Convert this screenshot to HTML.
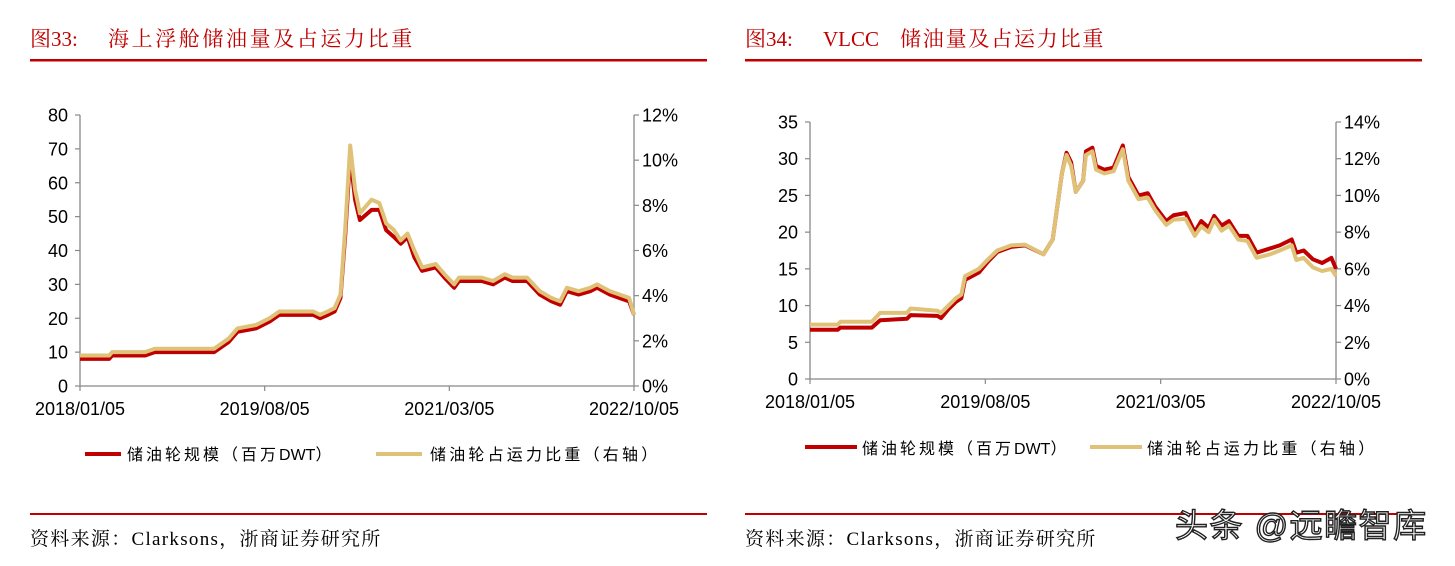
<!DOCTYPE html>
<html><head><meta charset="utf-8">
<style>
html,body{margin:0;padding:0;background:#fff;}
body{width:1455px;height:561px;position:relative;overflow:hidden;}
svg text{font-family:"Liberation Sans","Noto Sans CJK SC",sans-serif;}
.serif{font-family:"Liberation Serif","Noto Serif CJK SC",serif;}
</style></head>
<body>
<svg id="root" width="1455" height="561" viewBox="0 0 1455 561">
  <g>
    <text class="serif" x="30" y="46" font-size="21" fill="#C00000">图33:</text>
    <text class="serif" x="108" y="46" font-size="21" letter-spacing="2.6" fill="#C00000">海上浮舱储油量及占运力比重</text>
    <rect x="30" y="59" width="677" height="2.5" fill="#C00000"/>
  </g>
  <g>
    <text class="serif" x="745" y="46" font-size="21" fill="#C00000">图34:</text>
    <text class="serif" x="823" y="46" font-size="21" fill="#C00000">VLCC</text>
    <text class="serif" x="900" y="46" font-size="21" letter-spacing="1.8" fill="#C00000">储油量及占运力比重</text>
    <rect x="745" y="59" width="677" height="2.5" fill="#C00000"/>
  </g>
  <g id="leftChart"></g>
  <g id="rightChart"></g>
  <g>
    <rect x="85" y="452" width="36" height="4" fill="#C00000"/>
    <text x="127" y="460" font-size="16" letter-spacing="3" fill="#000">储油轮规模（百万<tspan letter-spacing="0">DWT</tspan>）</text>
    <rect x="376" y="452" width="46" height="4" fill="#DFC278"/>
    <text x="430" y="460" font-size="16" letter-spacing="3.2" fill="#000">储油轮占运力比重（右轴）</text>
  </g>
  <g>
    <rect x="805" y="445" width="52" height="4" fill="#C00000"/>
    <text x="862" y="454" font-size="16" letter-spacing="3" fill="#000">储油轮规模（百万<tspan letter-spacing="0">DWT</tspan>）</text>
    <rect x="1090" y="445" width="52" height="4" fill="#DFC278"/>
    <text x="1147" y="454" font-size="16" letter-spacing="3.2" fill="#000">储油轮占运力比重（右轴）</text>
  </g>
  <rect x="30" y="513" width="677" height="2" fill="#C00000"/>
  <rect x="745" y="513" width="677" height="2" fill="#C00000"/>
  <text class="serif" x="30" y="545" font-size="19" letter-spacing="1.3" fill="#000">资料来源：Clarksons，浙商证券研究所</text>
  <text class="serif" x="745" y="545" font-size="19" letter-spacing="1.3" fill="#000">资料来源：Clarksons，浙商证券研究所</text>
  <text x="1175" y="537" font-size="33" letter-spacing="1.5" fill="#fff" stroke="#222" stroke-width="1.4">头条 @远瞻智库</text>
</svg>
<script>
// ---- left chart data (month index since 2018/01/05) ----
const leftT = [0,3,3.3,6.7,7.7,13.8,15.3,16.2,18.1,19.5,20.5,22.4,24,24.7,25.5,26.2,26.8,27.3,27.8,28.3,28.8,30,30.8,31.5,32.3,33,33.7,34.4,35.2,36.6,37.5,38.5,39,39.5,41.3,42.5,43.7,44.5,46,47.3,48.5,49.4,50.1,51.3,52.5,53.2,54.5,55.5,56.5,57];
const leftScale = [8,8,9,9,10,10,13,16,17,19,21,21,21,20,21,22,26,45,68,55,49,52,52,46,44,42,44,38,34,35,32,29,31,31,31,30,32,31,31,27,25,24,28,27,28,29,27,26,25,21];
const leftRatio = [1.35,1.35,1.5,1.5,1.65,1.65,2.1,2.55,2.7,3.0,3.3,3.3,3.3,3.15,3.3,3.45,4.05,7.05,10.65,8.7,7.65,8.25,8.1,7.2,6.9,6.45,6.75,6.0,5.25,5.4,4.95,4.5,4.8,4.8,4.8,4.65,4.95,4.8,4.8,4.2,3.9,3.75,4.35,4.2,4.35,4.5,4.2,4.05,3.9,3.15];
const leftLeftTicks = [0,10,20,30,40,50,60,70,80];
const leftRightTicks = [0,2,4,6,8,10,12];
// ---- right chart data ----
const rightT = [0,3,3.3,6.7,7.6,10.5,10.9,13.8,14.2,15,15.8,16.4,16.8,18.3,19.3,20.3,21.8,23.3,25.3,26.3,27.3,27.8,28.3,28.8,29.6,29.9,30.6,31,31.9,32.9,33.9,34.5,35.6,36.6,37.4,38.6,39.4,40.7,41.7,42.4,43.2,43.8,44.6,45.4,46.4,47.4,48.4,49.9,50.9,52.2,52.7,53.5,54.5,55.5,56.5,57];
const rightScale = [6.7,6.7,7,7,8,8.2,8.7,8.6,8.3,9.5,10.5,11,13.5,14.5,16,17.3,18,18.2,17,19,28,30.8,29.5,25.5,27,31,31.5,29,28.5,28.8,31.8,27.5,25,25.3,23.5,21.5,22.3,22.6,20,21.5,20.6,22.2,20.9,21.5,19.5,19.5,17.2,17.8,18.2,19,17.2,17.5,16.3,15.8,16.5,15];
const rightRatio = [2.96,2.96,3.12,3.12,3.6,3.6,3.84,3.72,3.6,4.0,4.4,4.6,5.6,6.0,6.52,7.0,7.28,7.32,6.8,7.6,11.2,12.2,11.6,10.2,10.8,12.2,12.4,11.4,11.2,11.32,12.52,10.8,9.8,9.88,9.2,8.4,8.68,8.72,7.8,8.32,8.0,8.68,8.08,8.36,7.6,7.52,6.6,6.8,7.0,7.28,6.48,6.6,6.08,5.88,6.0,5.6];
const rightLeftTicks = [0,5,10,15,20,25,30,35];
const rightRightTicks = [0,2,4,6,8,10,12,14];
const xTickLabels = ["2018/01/05","2019/08/05","2021/03/05","2022/10/05"];
const xTickPos = [0,19,38,57];

const NS = "http://www.w3.org/2000/svg";
function mk(tag, attrs, parent){const e=document.createElementNS(NS,tag);for(const k in attrs)e.setAttribute(k,attrs[k]);parent.appendChild(e);return e;}

function draw(g, box, t, scale, ratio, lTicks, rTicks, goldW){
  const xs = v => box.x0 + (v/57)*(box.x1-box.x0);
  const yL = v => box.yb - (v/lTicks[lTicks.length-1])*(box.yb-box.yt);
  const yR = v => box.yb - (v/rTicks[rTicks.length-1])*(box.yb-box.yt);
  const la = mk('line',{x1:box.x0,y1:box.yt,x2:box.x0,y2:box.yb,stroke:'#888','stroke-width':1.3},g);
  
  
  const ra = mk('line',{x1:box.x1,y1:box.yt,x2:box.x1,y2:box.yb,stroke:'#888','stroke-width':1.3},g);
  
  
  const xa = mk('line',{x1:box.x0,y1:box.yb,x2:box.x1,y2:box.yb,stroke:'#888','stroke-width':1.3},g);
  
  
  lTicks.forEach(v=>{
    mk('line',{x1:box.x0-5,y1:yL(v),x2:box.x0,y2:yL(v),stroke:'#888','stroke-width':1.2},g);
    const tx = mk('text',{x:box.x0-12,y:yL(v)+6.5,'font-size':18,'text-anchor':'end',fill:'#000'},g);
    tx.textContent = v;
    
    
  });
  rTicks.forEach(v=>{
    mk('line',{x1:box.x1,y1:yR(v),x2:box.x1+5,y2:yR(v),stroke:'#888','stroke-width':1.2},g);
    const tx = mk('text',{x:box.x1+8,y:yR(v)+6.5,'font-size':18,fill:'#000'},g);
    tx.textContent = v+'%';
    
    
  });
  xTickPos.forEach((p,i)=>{
    mk('line',{x1:xs(p),y1:box.yb,x2:xs(p),y2:box.yb+5,stroke:'#888','stroke-width':1.2},g);
    const tx = mk('text',{x:xs(p),y:box.yb+29,'font-size':18,'text-anchor':'middle',fill:'#000'},g);
    tx.textContent = xTickLabels[i];
    
    
  });
  const red = mk('polyline',{points:t.map((v,i)=>xs(v)+','+yL(scale[i])).join(' '),fill:'none',stroke:'#C00000','stroke-width':4,'stroke-linejoin':'round'},g);
  
  
  const gold = mk('polyline',{points:t.map((v,i)=>xs(v)+','+yR(ratio[i])).join(' '),fill:'none',stroke:'#DFC278','stroke-width':goldW,'stroke-linejoin':'round'},g);
  
  
}
draw(document.getElementById('leftChart'),{x0:80,x1:634,yt:115,yb:386},leftT,leftScale,leftRatio,leftLeftTicks,leftRightTicks,4);
draw(document.getElementById('rightChart'),{x0:810,x1:1336,yt:122,yb:379},rightT,rightScale,rightRatio,rightLeftTicks,rightRightTicks,4);
</script>
</body></html>
